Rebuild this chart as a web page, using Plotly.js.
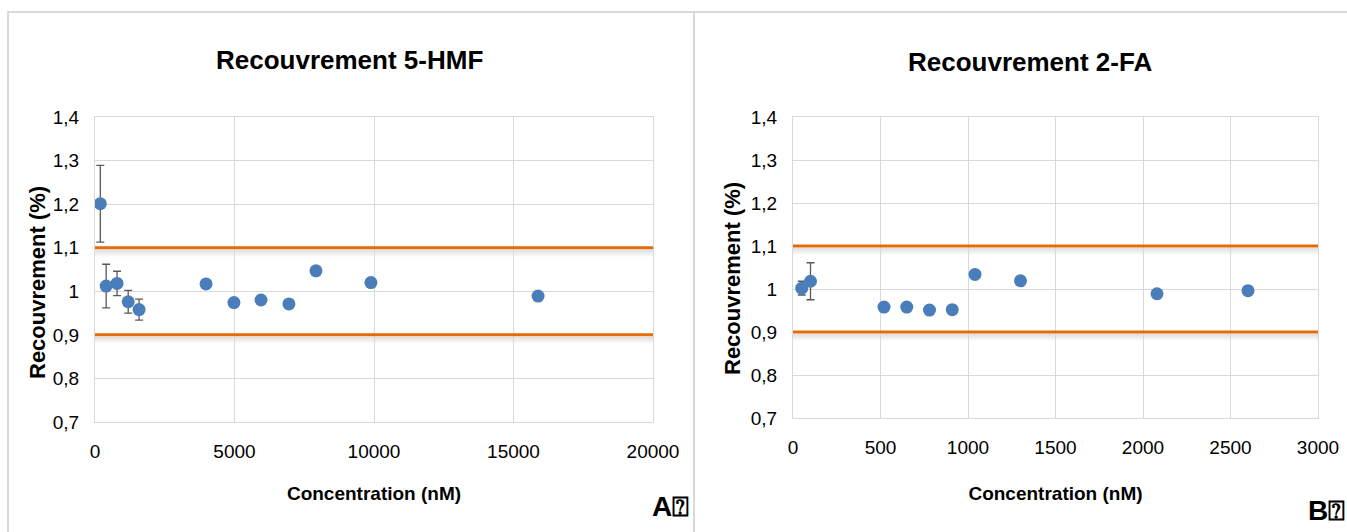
<!DOCTYPE html>
<html>
<head>
<meta charset="utf-8">
<script src="https://cdn.plot.ly/plotly-3.0.1.min.js"></script>
<style>html,body{margin:0;padding:0;background:#fff;}#chart{width:1347px;height:532px;}</style>
</head>
<body>
<div id="chart"></div>
<script>
// ---- Data ----
const hmfTitle = "Recouvrement 5-HMF";
const faTitle = "Recouvrement 2-FA";
const xTitle = "Concentration (nM)";
const yTitle = "Recouvrement (%)";
const hmfConc = [190, 400, 790, 1190, 1580, 3980, 4980, 5950, 6950, 7920, 9890, 15880];
const hmfRec  = [1.201, 1.012, 1.018, 0.976, 0.958, 1.017, 0.974, 0.980, 0.971, 1.047, 1.020, 0.989];
const hmfErr  = [0.088, 0.050, 0.028, 0.026, 0.024, 0.006, 0.005, 0.005, 0.005, 0.005, 0.005, 0.005];
const faConc = [50, 100, 520, 650, 780, 910, 1040, 1300, 2080, 2600];
const faRec  = [1.002, 1.018, 0.958, 0.958, 0.951, 0.952, 1.034, 1.019, 0.989, 0.996];
const faErr  = [0.016, 0.043, 0.004, 0.004, 0.004, 0.004, 0.004, 0.004, 0.004, 0.004];
const limits = [0.9, 1.1];
const hmfRange = [0, 20000];
const faRange = [0, 3000];
const yRange = [0.7, 1.4];
const yTickVals = [0.7, 0.8, 0.9, 1.0, 1.1, 1.2, 1.3, 1.4];
const yTickText = ["0,7", "0,8", "0,9", "1", "1,1", "1,2", "1,3", "1,4"];
const panelLabels = ["A\u2370", "B\u2370"];

// ---- Styles ----
const W = 1347, H = 532;
const blue = "#4A7EBB";
const orange = "#E36C0A";
const grid = "#D9D9D9";
const font = "Liberation Sans, Arial, sans-serif";

function px(x) { return x / W; }
function py(y) { return 1 - y / H; }

const traces = [];
function addPanel(conc, rec, err, range, xa, ya) {
  limits.forEach(l => {
    traces.push({
      x: range, y: [l, l], xaxis: xa, yaxis: ya, mode: "lines",
      line: {color: orange, width: 3}, hoverinfo: "skip", showlegend: false
    });
  });
  traces.push({
    x: conc, y: rec, xaxis: xa, yaxis: ya, mode: "markers", type: "scatter",
    marker: {color: blue, size: 13},
    error_y: {type: "data", array: err, visible: true, color: "#595959", thickness: 1.3, width: 4},
    showlegend: false
  });
}
addPanel(hmfConc, hmfRec, hmfErr, hmfRange, "x", "y");
addPanel(faConc, faRec, faErr, faRange, "x2", "y2");

const shapes = [];
// frame lines
shapes.push({type: "line", xref: "paper", yref: "paper", x0: px(7), x1: 1, y0: py(12), y1: py(12), line: {color: "#D9D9D9", width: 2}});
shapes.push({type: "line", xref: "paper", yref: "paper", x0: px(8), x1: px(8), y0: py(12), y1: 0, line: {color: "#D9D9D9", width: 2}});
shapes.push({type: "line", xref: "paper", yref: "paper", x0: px(694), x1: px(694), y0: py(12), y1: 0, line: {color: "#D9D9D9", width: 2}});
// shadows under limit lines
[["x", "y"], ["x2", "y2"]].forEach(([xa, ya]) => {
  limits.forEach(l => {
    for (let i = 0; i < 7; i++) {
      shapes.push({
        type: "rect", xref: xa + " domain", yref: ya, x0: 0, x1: 1,
        ysizemode: "pixel", yanchor: l, y0: -2 - i, y1: -3 - i,
        fillcolor: "rgba(120,120,120," + (0.22 * (1 - i / 7)).toFixed(3) + ")",
        line: {width: 0}, layer: "below"
      });
    }
  });
});

function xaxis(range, dtick, dom, anchor, standoff) {
  return {
    domain: dom, range: range, dtick: dtick, tick0: 0, tickformat: "d", anchor: anchor,
    showgrid: true, gridcolor: grid, gridwidth: 1,
    showline: true, linecolor: grid, linewidth: 1, mirror: true,
    zeroline: false, ticks: "", ticklabelstandoff: 12,
    tickfont: {family: font, size: 19, color: "#000"},
    title: {text: xTitle, font: {family: font, size: 19, color: "#000", weight: "bold"}, standoff: standoff},
    fixedrange: true
  };
}
function yaxis(dom, anchor) {
  return {
    domain: dom, range: yRange, tickvals: yTickVals, ticktext: yTickText, anchor: anchor,
    showgrid: true, gridcolor: grid, gridwidth: 1,
    showline: true, linecolor: grid, linewidth: 1, mirror: true,
    zeroline: false, ticks: "", ticklabelstandoff: 11,
    tickfont: {family: font, size: 19, color: "#000"},
    fixedrange: true
  };
}

const layout = {
  width: W, height: H, margin: {l: 0, r: 0, t: 0, b: 0},
  paper_bgcolor: "#fff", plot_bgcolor: "#fff",
  xaxis: xaxis(hmfRange, 5000, [px(95), px(653)], "y", 25),
  yaxis: yaxis([py(422), py(117)], "x"),
  xaxis2: xaxis(faRange, 500, [px(793), px(1318)], "y2", 29),
  yaxis2: yaxis([py(418), py(117)], "x2"),
  shapes: shapes,
  annotations: [
    {text: hmfTitle, xref: "paper", yref: "paper", x: px(349), y: py(60), xanchor: "center", yanchor: "middle", showarrow: false,
     font: {family: font, size: 26, color: "#000", weight: "bold"}},
    {text: faTitle, xref: "paper", yref: "paper", x: px(1030), y: py(62), xanchor: "center", yanchor: "middle", showarrow: false,
     font: {family: font, size: 26, color: "#000", weight: "bold"}},
    {text: yTitle, xref: "paper", yref: "paper", x: px(37), y: py(283), xanchor: "center", yanchor: "middle", textangle: -90, showarrow: false,
     font: {family: font, size: 22, color: "#000", weight: "bold"}},
    {text: yTitle, xref: "paper", yref: "paper", x: px(732), y: py(279), xanchor: "center", yanchor: "middle", textangle: -90, showarrow: false,
     font: {family: font, size: 22, color: "#000", weight: "bold"}},
    {text: panelLabels[0], xref: "paper", yref: "paper", x: px(670), y: py(506), xanchor: "center", yanchor: "middle", showarrow: false,
     font: {family: font, size: 28, color: "#000", weight: "bold"}},
    {text: panelLabels[1], xref: "paper", yref: "paper", x: px(1326), y: py(510), xanchor: "center", yanchor: "middle", showarrow: false,
     font: {family: font, size: 28, color: "#000", weight: "bold"}}
  ],
  showlegend: false
};

Plotly.newPlot("chart", traces, layout, {displayModeBar: false, staticPlot: true});
</script>
</body>
</html>
